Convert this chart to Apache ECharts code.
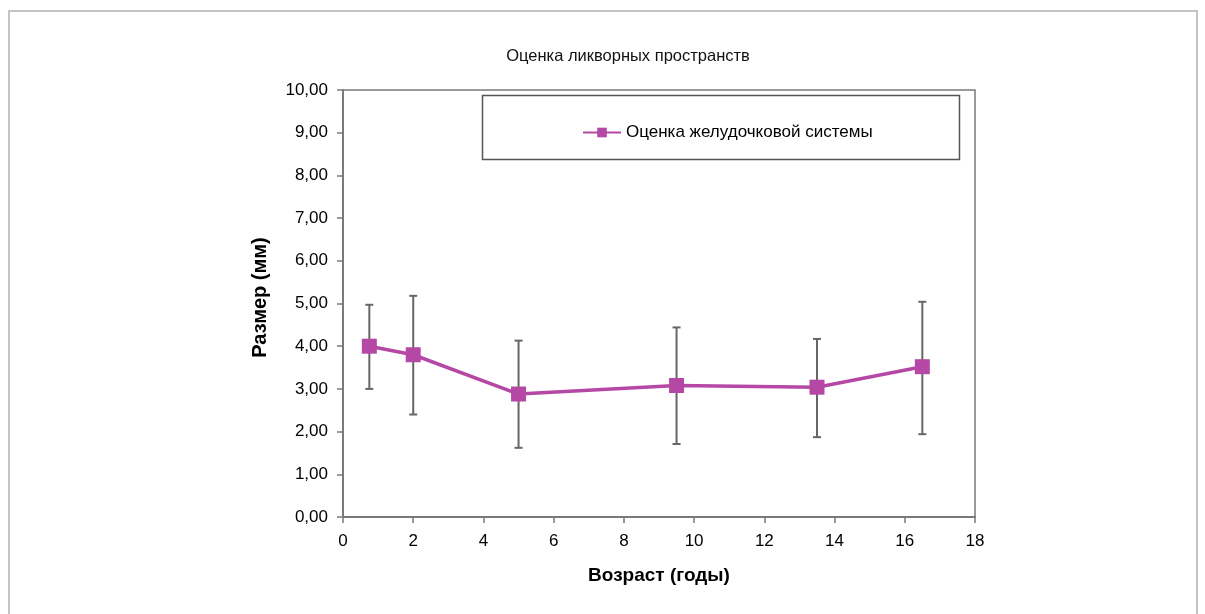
<!DOCTYPE html>
<html>
<head>
<meta charset="utf-8">
<script src="https://cdn.jsdelivr.net/npm/echarts@6/dist/echarts.min.js"></script>
<style>
  html, body { margin: 0; padding: 0; background: #fff; }
  #main { width: 1205px; height: 614px; }
</style>
</head>
<body>
<div id="main"></div>
<script>
// данные
var ages = [0.75, 2, 5, 9.5, 13.5, 16.5];
var sizes = [4.0, 3.8, 2.88, 3.08, 3.04, 3.52];
var errLow = [3.0, 2.4, 1.62, 1.71, 1.87, 1.94];
var errHigh = [4.97, 5.18, 4.13, 4.44, 4.17, 5.04];
var seriesName = 'Оценка желудочковой системы';

var chart = echarts.init(document.getElementById('main'));

var lineData = ages.map(function (a, i) { return [a, sizes[i]]; });
var errData = ages.map(function (a, i) { return [a, errLow[i], errHigh[i]]; });

var purple = '#b548a4';
var axisColor = '#7a7a7a';
var font = '"Liberation Sans", Arial, sans-serif';

var option = {
  animation: false,
  title: {
    text: 'Оценка ликворных пространств',
    left: 623,
    textAlign: 'center',
    top: 43,
    textStyle: { fontFamily: font, fontSize: 16.5, fontWeight: 'normal', color: '#111' }
  },
  legend: {
    data: [seriesName],
    left: 577,
    top: 119,
    itemWidth: 38,
    itemHeight: 12,
    itemGap: 0,
    textStyle: { fontFamily: font, fontSize: 17, color: '#000' }
  },
  grid: {
    left: 343, top: 90, right: 230, bottom: 97,
    show: true, borderColor: axisColor, borderWidth: 1.5
  },
  xAxis: {
    type: 'value',
    min: 0, max: 18, interval: 2,
    name: 'Возраст (годы)',
    nameLocation: 'middle',
    nameGap: 49,
    nameTextStyle: { fontFamily: font, fontSize: 19, fontWeight: 'bold', color: '#000' },
    splitLine: { show: false },
    axisLine: { lineStyle: { color: axisColor, width: 2 } },
    axisTick: { show: true, length: 6, lineStyle: { color: axisColor, width: 1.5 } },
    axisLabel: { margin: 16, fontFamily: font, fontSize: 17, color: '#000' }
  },
  yAxis: {
    type: 'value',
    min: 0, max: 10, interval: 1,
    name: 'Размер (мм)',
    nameLocation: 'middle',
    nameRotate: 90,
    nameGap: 73,
    nameTextStyle: { fontFamily: font, fontSize: 20, fontWeight: 'bold', color: '#000', padding: [0, 0, 0, 12] },
    splitLine: { show: false },
    axisLine: { show: true, lineStyle: { color: axisColor, width: 2 } },
    axisTick: { show: true, length: 6, lineStyle: { color: axisColor, width: 1.5 } },
    axisLabel: {
      margin: 15, fontFamily: font, fontSize: 17, color: '#000',
      formatter: function (v) { return v.toFixed(2).replace('.', ','); }
    }
  },
  graphic: [
    { type: 'rect', shape: { x: 9, y: 11, width: 1188, height: 640 },
      style: { fill: null, stroke: '#c4c4c4', lineWidth: 2 }, silent: true },
    { type: 'rect', shape: { x: 482.5, y: 95.5, width: 477, height: 64 },
      style: { fill: '#fff', stroke: '#555', lineWidth: 1.5 }, silent: true, z: -1 }
  ],
  series: [
    {
      type: 'custom',
      name: 'err',
      data: errData,
      z: 1,
      renderItem: function (params, api) {
        var x = api.value(0);
        var lo = api.coord([x, api.value(1)]);
        var hi = api.coord([x, api.value(2)]);
        var cap = 4;
        var st = { stroke: '#666', lineWidth: 2 };
        return {
          type: 'group',
          children: [
            { type: 'line', shape: { x1: lo[0], y1: lo[1], x2: hi[0], y2: hi[1] }, style: st },
            { type: 'line', shape: { x1: lo[0] - cap, y1: lo[1], x2: lo[0] + cap, y2: lo[1] }, style: st },
            { type: 'line', shape: { x1: hi[0] - cap, y1: hi[1], x2: hi[0] + cap, y2: hi[1] }, style: st }
          ]
        };
      }
    },
    {
      type: 'line',
      name: seriesName,
      data: lineData,
      z: 3,
      symbol: 'rect',
      symbolSize: 15,
      lineStyle: { color: purple, width: 3.5 },
      itemStyle: { color: purple }
    }
  ]
};

chart.setOption(option);
</script>
</body>
</html>
